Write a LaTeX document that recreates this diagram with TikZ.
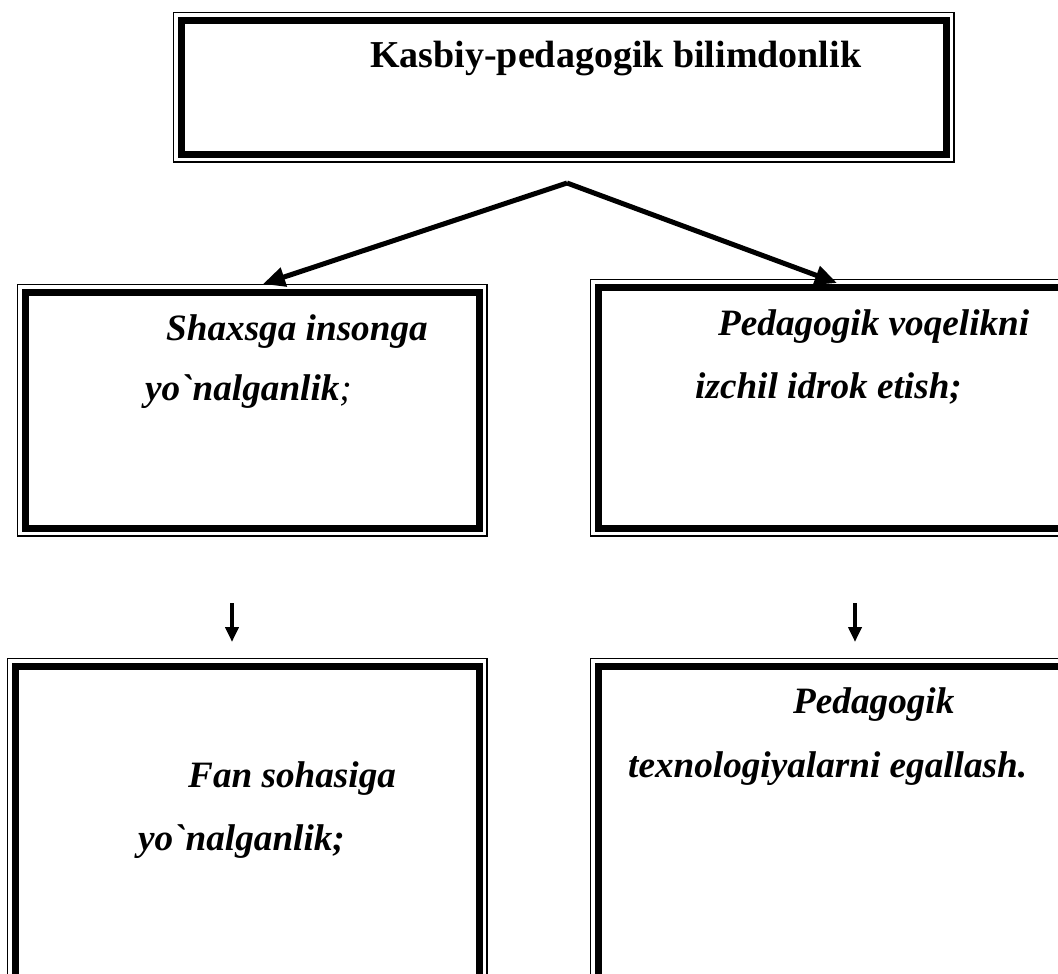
\documentclass[tikz,border=0pt]{standalone}
\usepackage{fontspec}
\newfontfamily\tnr{Liberation Serif}
\usetikzlibrary{arrows.meta}
\tikzset{
  thickbox/.style={draw, line width=7pt, outer sep=0pt, inner sep=0pt, rectangle},
  thinline/.style={draw, line width=1.4pt},
  boxtext/.style={anchor=base west, inner sep=0pt, font=\tnr\fontsize{37.2}{40}\selectfont\bfseries\itshape},
  toptext/.style={anchor=base west, inner sep=0pt, font=\tnr\fontsize{38}{40}\selectfont\bfseries},
  bigarrow/.style={line width=5pt, -{Triangle[length=22pt,width=19pt]}},
  downarrow/.style={line width=3.8pt, -{Triangle[length=15pt,width=13pt]}},
}
\newcommand{\dblbox}[5]{%
  \path[thickbox] (#2,#3) rectangle (#4,#5);
  \coordinate (#1 nw) at (#2,#3);
  \coordinate (#1 se) at (#4,#5);
  \draw[thinline] ([shift={(-8pt,8pt)}]#1 nw) rectangle ([shift={(8pt,-8pt)}]#1 se);
}
\begin{document}
\begin{tikzpicture}[x=1pt,y=-1pt]
\useasboundingbox (0,0) rectangle (1058,974);
\clip (0,0) rectangle (1058,974);
% boxes (thick-line centres)
\dblbox{top}{181.5}{20.5}{946}{154}
\dblbox{ml}{25.5}{292.5}{479}{528}
\dblbox{mr}{598.5}{287.5}{1075}{528}
\dblbox{bl}{15.5}{666.5}{479}{1000}
\dblbox{br}{598.5}{666.5}{1075}{1000}
% texts
\node[toptext] (t0) at (370,68) {Kasbiy-pedagogik bilimdonlik};
\node[boxtext] (t1) at (166,340) {Shaxsga insonga};
\node[boxtext] (t2) at (145,400) {yo`nalganlik\textmd{;}};
\node[boxtext] (t3) at (718,335) {Pedagogik voqelikni};
\node[boxtext] (t4) at (695,398) {izchil idrok etish;};
\node[boxtext] (t5) at (188,787) {Fan sohasiga};
\node[boxtext] (t6) at (138,850) {yo`nalganlik;};
\node[boxtext] (t7) at (793,713) {Pedagogik};
\node[boxtext] (t8) at (628,777) {texnologiyalarni egallash.};
% connectors
\coordinate (apex) at (567,183);
\coordinate (lt) at (263,284);
\coordinate (rt) at (837,283);
\draw[bigarrow] (apex) -- (lt);
\draw[bigarrow] (apex) -- (rt);
\coordinate (ld0) at (232,603);
\coordinate (ld1) at (232,642);
\coordinate (rd0) at (855,603);
\coordinate (rd1) at (855,642);
\draw[downarrow] (ld0) -- (ld1);
\draw[downarrow] (rd0) -- (rd1);
\end{tikzpicture}
\end{document}
